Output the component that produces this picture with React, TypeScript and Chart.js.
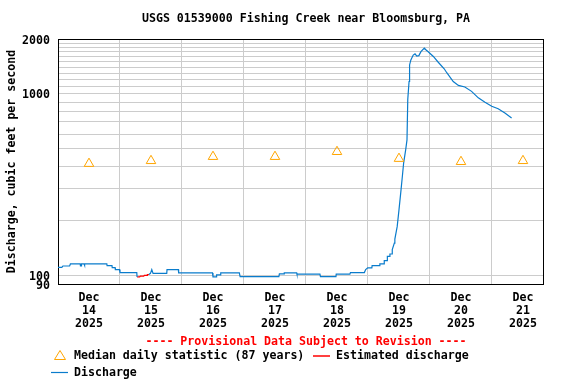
import React, { useEffect, useRef } from 'react';
import { Chart, registerables } from 'chart.js';

Chart.register(...registerables);

const FONT_FAMILY = '"DejaVu Sans Mono", "Liberation Mono", monospace';
const FONT_SIZE = 11.6;

const TITLE = 'USGS 01539000 Fishing Creek near Bloomsburg, PA';
const Y_TITLE = 'Discharge, cubic feet per second';
const PROVISIONAL = '---- Provisional Data Subject to Revision ----';
const MEDIAN_LABEL = 'Median daily statistic (87 years)';
const ESTIMATED_LABEL = 'Estimated discharge';
const DISCHARGE_LABEL = 'Discharge';

// x axis: hours since Dec 14 2025 00:00
const MONTH = 'Dec';
const YEAR = '2025';
const dayNumbers = ['14', '15', '16', '17', '18', '19', '20', '21'];
const X_MIN = 0;
const X_MAX = 187.75;

const Y_MIN = 90;
const Y_MAX = 2000;
const yTickValues = [90, 100, 200, 300, 400, 500, 600, 700, 800, 900, 1000, 1100, 1200, 1300, 1400, 1500, 1600, 1700, 1800, 1900, 2000];
const yLabeledTicks = [90, 100, 1000, 2000];

const medianHours = [12, 36, 60, 84, 108, 132, 156, 180];
const medianValues = [413, 428, 451, 451, 480, 440, 423, 428];

const dischargeHours = [
  0, 1.5, 1.9, 4.5, 4.8, 8.6, 8.7, 9.0, 9.1, 10.1, 10.2, 10.4, 18.9, 19.0, 20.9, 21.0, 22.1, 22.2, 23.8, 24.0, 30.5, 30.6,
  33.0,
  35.2, 35.8, 36.3, 36.8, 42.1, 42.2, 46.6, 46.7, 59.8, 60.0, 61.2, 61.4, 62.9, 63.0, 70.2, 70.5, 85.5, 85.7, 87.5, 87.6,
  92.4, 92.5, 101.4, 101.6, 107.6, 107.7, 113.0, 113.2, 118.6, 119.1, 119.9, 121.5, 121.6, 124.3, 124.6, 126.2, 126.3,
  127.4, 127.5, 128.4, 128.5, 129.3, 129.4, 130.2, 130.4, 131.3, 132.0, 132.8, 133.3, 133.8, 134.6, 135.1, 135.4, 135.9,
  136.1, 136.6, 137.5, 138.2, 138.9, 139.7, 140.5, 141.8, 142.5, 143.3, 145.3, 147.2, 149.5, 150.5, 153.0, 155.0, 157.5,
  160.1, 162.7, 165.3, 167.9, 170.4, 173.0, 175.6,
];
const dischargeValues = [
  111, 111, 113, 113, 116, 116, 113, 113, 116, 116, 114, 116, 116, 113.5, 113.5, 110.6, 110.6, 108, 108, 104, 104, 98.4,
  null,
  101.5, 103, 108, 103, 103, 108, 108, 103.5, 103.5, 98.4, 98.4, 101, 101, 103.5, 103.5, 98.8, 98.8, 102.3, 102.3, 103.5,
  103.5, 102, 102, 98.8, 98.8, 102, 102, 104, 104, 108, 110.5, 110.5, 113.5, 113.5, 116, 116, 121,
  121, 127.7, 127.7, 131.6, 131.6, 139, 151, 159, 186, 230, 297, 351, 416, 493, 558, 929, 1168,
  1440, 1534, 1632, 1656, 1610, 1620, 1703, 1780, 1740, 1703, 1603, 1490, 1372, 1305, 1168, 1111, 1089,
  1031, 950, 898, 853, 827, 783, 736,
];

const estimatedHours = [30.6, 31.6, 31.9, 33.2, 33.4, 34.5, 34.6, 35.2];
const estimatedValues = [98.4, 98.4, 99.5, 99.5, 100.3, 100.3, 101.5, 101.5];

const BLUE = '#0a7ccc';
const RED = '#ff0000';
const ORANGE = '#ffa500';
const GRID = '#cccccc';

const font = `bold ${FONT_SIZE}px ${FONT_FAMILY}`;

const decorPlugin = {
  id: 'decor',
  beforeDatasetsDraw(chart: any) {
    const { ctx, chartArea } = chart;
    ctx.save();
    ctx.strokeStyle = '#000000';
    ctx.lineWidth = 1;
    ctx.strokeRect(
      Math.round(chartArea.left) + 0.5,
      Math.round(chartArea.top) + 0.5,
      Math.round(chartArea.right - chartArea.left),
      Math.round(chartArea.bottom - chartArea.top)
    );
    ctx.restore();
  },
  afterDraw(chart: any) {
    const { ctx, chartArea } = chart;
    ctx.save();
    ctx.font = font;
    ctx.fillStyle = '#000000';
    ctx.textBaseline = 'middle';
    ctx.textAlign = 'center';
    ctx.fillText(TITLE, 306, 19);

    ctx.save();
    ctx.translate(12, (chartArea.top + chartArea.bottom) / 2);
    ctx.rotate(-Math.PI / 2);
    ctx.fillText(Y_TITLE, 0, 0);
    ctx.restore();

    ctx.fillStyle = RED;
    ctx.fillText(PROVISIONAL, 306, 342);

    // legend
    ctx.textAlign = 'left';
    ctx.fillStyle = '#000000';
    ctx.fillText(MEDIAN_LABEL, 74, 356);
    ctx.fillText(ESTIMATED_LABEL, 336, 356);
    ctx.fillText(DISCHARGE_LABEL, 74, 373);

    // triangle marker
    ctx.strokeStyle = ORANGE;
    ctx.lineWidth = 1;
    ctx.beginPath();
    ctx.moveTo(60, 350.5);
    ctx.lineTo(65.5, 359.5);
    ctx.lineTo(54.5, 359.5);
    ctx.closePath();
    ctx.stroke();

    ctx.strokeStyle = RED;
    ctx.lineWidth = 1.5;
    ctx.beginPath();
    ctx.moveTo(313, 356);
    ctx.lineTo(330, 356);
    ctx.stroke();

    ctx.strokeStyle = BLUE;
    ctx.lineWidth = 1.2;
    ctx.beginPath();
    ctx.moveTo(51, 372.5);
    ctx.lineTo(68, 372.5);
    ctx.stroke();
    ctx.restore();
  },
};

export default function App() {
  const canvasRef = useRef<HTMLCanvasElement | null>(null);

  useEffect(() => {
    if (!canvasRef.current) return;
    const discharge = dischargeHours.map((h, i) => ({ x: h, y: dischargeValues[i] }));
    const estimated = estimatedHours.map((h, i) => ({ x: h, y: estimatedValues[i] }));
    const median = medianHours.map((h, i) => ({ x: h, y: medianValues[i] }));

    const chart = new Chart(canvasRef.current, {
      type: 'line',
      data: {
        datasets: [
          {
            label: MEDIAN_LABEL,
            data: median,
            showLine: false,
            pointStyle: 'triangle',
            pointRadius: 5.5,
            pointBorderColor: ORANGE,
            pointBackgroundColor: 'rgba(0,0,0,0)',
            pointBorderWidth: 1,
            borderColor: ORANGE,
          },
          {
            label: DISCHARGE_LABEL,
            data: discharge,
            borderColor: BLUE,
            borderWidth: 1.2,
            pointRadius: 0,
            tension: 0,
            spanGaps: false,
          },
          {
            label: ESTIMATED_LABEL,
            data: estimated,
            borderColor: RED,
            borderWidth: 1.2,
            pointRadius: 0,
            tension: 0,
          },
        ],
      },
      options: {
        animation: false,
        responsive: false,
        maintainAspectRatio: false,
        parsing: true,
        layout: { padding: { left: 0, top: 39, right: 33, bottom: 0 } },
        plugins: {
          legend: { display: false },
          title: { display: false },
          tooltip: { enabled: false },
        },
        scales: {
          x: {
            type: 'linear',
            min: X_MIN,
            max: X_MAX,
            border: { display: false },
            afterBuildTicks: (scale: any) => {
              const ticks = [];
              for (let h = 0; h <= 180; h += 12) ticks.push({ value: h });
              scale.ticks = ticks;
            },
            afterFit: (scale: any) => {
              scale.height = 100;
            },
            grid: {
              drawTicks: false,
              color: (ctx: any) => (ctx.tick && ctx.tick.value % 24 === 0 ? GRID : 'rgba(0,0,0,0)'),
              lineWidth: 1,
            },
            ticks: {
              autoSkip: false,
              maxRotation: 0,
              minRotation: 0,
              padding: 7,
              color: '#000000',
              font: { family: FONT_FAMILY, size: FONT_SIZE, weight: 'bold', lineHeight: '13px' },
              callback: (value: any) => {
                const v = Number(value);
                if (v % 24 !== 12) return '';
                const d = Math.floor(v / 24);
                return [MONTH, dayNumbers[d], YEAR];
              },
            },
          },
          y: {
            type: 'logarithmic',
            min: Y_MIN,
            max: Y_MAX,
            border: { display: false },
            afterBuildTicks: (scale: any) => {
              scale.ticks = yTickValues.map((v) => ({ value: v }));
            },
            afterFit: (scale: any) => {
              scale.width = 58;
            },
            grid: {
              drawTicks: false,
              color: GRID,
              lineWidth: 1,
            },
            ticks: {
              autoSkip: false,
              padding: 8,
              labelOffset: 1.5,
              color: '#000000',
              font: { family: FONT_FAMILY, size: FONT_SIZE, weight: 'bold' },
              callback: (value: any) => {
                const v = Number(value);
                return yLabeledTicks.includes(v) ? String(v) : '';
              },
            },
          },
        },
      },
      plugins: [decorPlugin],
    } as any);

    return () => {
      chart.destroy();
    };
  }, []);

  return (
    <div style={{ position: 'absolute', left: 0, top: 0, width: 576, height: 384, background: '#ffffff' }}>
      <canvas ref={canvasRef} width={576} height={384} style={{ display: 'block', width: 576, height: 384 }} />
    </div>
  );
}
